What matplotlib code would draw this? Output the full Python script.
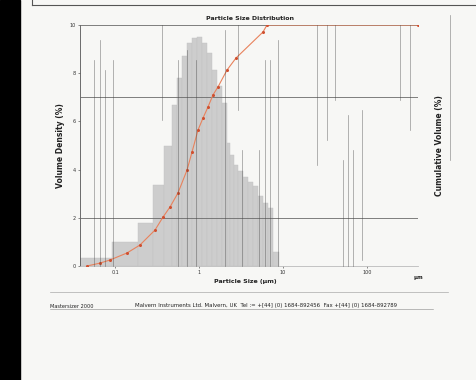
import numpy as np
import matplotlib
matplotlib.use("Agg")
import matplotlib.pyplot as plt
from matplotlib.lines import Line2D
from matplotlib.patches import Rectangle
from matplotlib.ticker import NullLocator, FixedLocator, FixedFormatter

# ---------------- data ----------------
bin_edges_um = [0.0383, 0.0921, 0.188, 0.283, 0.383, 0.477, 0.547, 0.628, 0.720,
                0.826, 0.947, 1.086, 1.245, 1.428, 1.638, 1.878, 2.154, 2.339,
                2.610, 2.912, 3.342, 3.829, 4.394, 5.036, 5.779, 6.625, 7.604, 8.96]
volume_pct = [0.33, 1.0, 1.78, 3.36, 5.0, 6.7, 7.8, 8.7, 9.25, 9.45, 9.5, 9.25,
              8.85, 8.15, 7.45, 6.75, 5.1, 4.6, 4.2, 3.95, 3.7, 3.5, 3.3, 2.9,
              2.6, 2.4, 0.58]

cum_size_um = [0.0464, 0.0663, 0.0872, 0.139, 0.198, 0.299, 0.373, 0.452, 0.562,
               0.72, 0.826, 0.973, 1.116, 1.28, 1.468, 1.683, 2.154, 2.757,
               5.78, 6.45, 400]
cum_pct = [0, 1.2, 2.5, 5.4, 8.7, 14.9, 20.3, 24.5, 30.3, 39.8, 47.3, 56.4,
           61.4, 66.0, 71.0, 74.3, 81.3, 86.3, 97.1, 100, 100]

x_ticks = [0.1, 1, 10, 100]
x_tick_labels = ["0.1", "1", "10", "100"]
y_ticks = [0, 2, 4, 6, 8, 10]
grid_levels = [2, 7]

title = "Particle Size Distribution"
x_label = "Particle Size (µm)"
y_label_left = "Volume Density (%)"
y_label_right = "Cumulative Volume (%)"
footer_left = "Mastersizer 2000"
footer_right = ("Malvern Instruments Ltd. Malvern, UK  Tel := +[44] (0) 1684-892456  "
                "Fax +[44] (0) 1684-892789")

# scan streaks of the photocopy (x, y_top, y_bottom) in pixels
streaks = [(94, 60, 266), (100, 40, 266), (105, 70, 266), (113, 60, 266),
           (162, 25, 120), (178, 60, 266), (187, 50, 266), (196, 60, 266),
           (225, 30, 266), (238, 25, 110), (242, 150, 266), (259, 150, 266),
           (265, 60, 266), (270, 60, 266), (278, 40, 266), (317, 25, 165),
           (327, 25, 140), (335, 25, 100), (343, 160, 266), (348, 115, 266),
           (353, 150, 266), (362, 110, 260), (400, 25, 100), (410, 25, 130),
           (450, 15, 160)]

# ---------------- figure ----------------
W, H = 476, 380
fig = plt.figure(figsize=(W / 100, H / 100), dpi=100, facecolor="#f7f7f5")

def fx(px):
    return px / W

def fy(py):
    return 1 - py / H

# black border of the scan on the left
fig.patches.append(Rectangle((0, 0), fx(20), 1, transform=fig.transFigure,
                             color="black", zorder=10))
# bottom corner of the box above
fig.lines.append(Line2D([fx(32), 1], [fy(5), fy(5)], transform=fig.transFigure,
                        color="#555555", lw=0.8))
fig.lines.append(Line2D([fx(32), fx(32)], [1, fy(5)], transform=fig.transFigure,
                        color="#555555", lw=0.8))

ax = fig.add_axes([fx(80), fy(266), fx(418) - fx(80), fy(25) - fy(266)])
ax.set_facecolor("none")
edges = np.array(bin_edges_um)
ax.bar(edges[:-1], volume_pct, width=np.diff(edges), align="edge",
       color="#cdcdcd", edgecolor="#c2c2c2", linewidth=0.3, zorder=2)
ax.set_xscale("log")
ax.set_xlim(0.0383, 405)
ax.set_ylim(0, 10)
ax.xaxis.set_major_locator(FixedLocator(x_ticks))
ax.xaxis.set_major_formatter(FixedFormatter(x_tick_labels))
ax.xaxis.set_minor_locator(NullLocator())
ax.set_yticks(y_ticks)
ax.tick_params(labelsize=3.5, length=1.5, width=0.4, colors="#333333", pad=1.5)
for lvl in grid_levels:
    ax.axhline(lvl, color="#6a6a6a", lw=0.6, zorder=3)
ax.spines["right"].set_visible(False)
ax.spines["left"].set_color("#555555")
ax.spines["top"].set_color("#6a6a6a")
ax.spines["bottom"].set_color("#bbbbbb")
for s in ax.spines.values():
    s.set_linewidth(0.6)
ax.set_ylabel(y_label_left, fontsize=5.5, fontweight="bold", labelpad=3,
              color="#222222")

ax2 = ax.twinx()
ax2.plot(cum_size_um, cum_pct, color="#e8825c", lw=0.8, zorder=5)
ax2.plot(cum_size_um, cum_pct, ls="none", marker="o", ms=1.2,
         color="#d05030", zorder=6)
ax2.set_ylim(0, 100)
ax2.set_yticks([])
for s in ax2.spines.values():
    s.set_visible(False)
ax2.set_ylabel(y_label_right, fontsize=5.5, fontweight="bold", labelpad=12,
               color="#222222")

# texts
fig.text(fx(250), fy(18), title, fontsize=4.5, fontweight="bold", ha="center",
         va="center", color="#222222")
fig.text(fx(245), fy(282), x_label, fontsize=4.5, fontweight="bold", ha="center",
         va="center", color="#222222")
fig.text(fx(418), fy(277), "µm", fontsize=4, fontweight="bold", ha="center",
         va="center", color="#222222")

# footer
fig.lines.append(Line2D([fx(50), fx(448)], [fy(292), fy(292)],
                        transform=fig.transFigure, color="#aaaaaa", lw=0.5))
fig.text(fx(50), fy(306), footer_left, fontsize=3.6, ha="left", va="center",
         color="#222222")
fig.text(fx(135), fy(306), footer_right, fontsize=3.9, ha="left", va="center",
         color="#222222")
fig.lines.append(Line2D([fx(50), fx(433)], [fy(309), fy(309)],
                        transform=fig.transFigure, color="#888888", lw=0.4))

# scan streaks
for x, y0, y1 in streaks:
    fig.lines.append(Line2D([fx(x), fx(x)], [fy(y0), fy(y1)],
                            transform=fig.transFigure, color="#444444",
                            lw=0.5, alpha=0.55, zorder=7))

fig.savefig("out.png", dpi=100, facecolor=fig.get_facecolor())
